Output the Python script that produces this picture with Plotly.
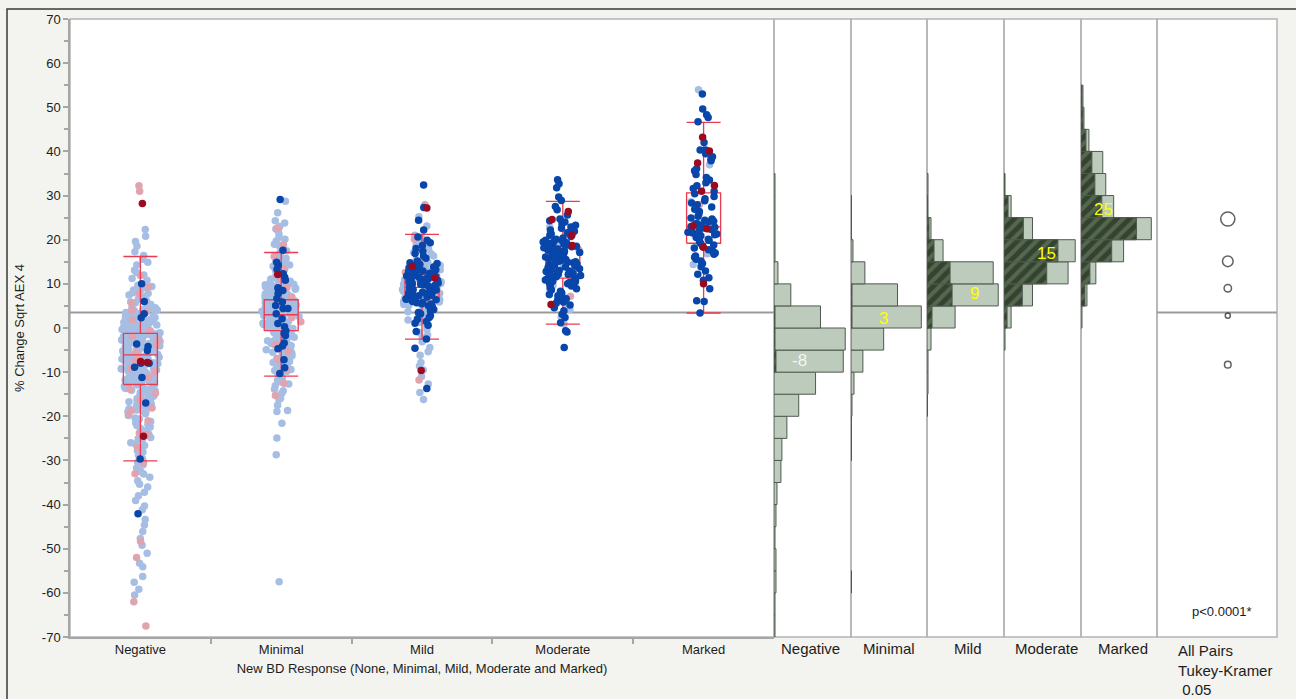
import math
import plotly.graph_objects as go

W, H = 1296, 699

CATEGORIES = ["Negative", "Minimal", "Mild", "Moderate", "Marked"]

# ---- % change values per response group (lb = light blue, lp = light pink,
# ---- db = dark blue, dr = dark red markers)
NEG_LB = [-60.5, -59.2, -57.6, -56.3, -54.1, -53.3, -51.0, -49.2, -47.7, -46.1,
          -44.6, -43.4, -41.2, -40.3, -39.1, -38.0, -37.2, -36.0, -35.4,
          -34.6, -33.8, -33.1, -32.5, -31.7, -31.0, -30.4,
          -29.9, -29.5, -28.8, -28.1, -27.8, -27.4, -26.6, -26.3, -26.0, -25.4, -25.1,
          -24.8, -24.0, -23.9, -23.7, -23.3, -22.7, -22.4, -22.1, -21.8, -21.5, -21.2,
          -20.9, -20.6, -20.4,
          -19.8, -19.4, -19.1, -19.0, -18.9, -18.6, -18.3, -18.0, -17.9, -17.6, -17.4,
          -17.2, -16.9, -16.7, -16.5, -16.2, -16.0, -15.8, -15.6, -15.5, -15.4, -15.2,
          -14.9, -14.7, -14.6, -14.4, -14.2, -14.1, -14.0, -13.8, -13.7, -13.5, -13.3,
          -13.2, -13.1, -12.9, -12.8, -12.7, -12.6, -12.4, -12.3, -12.2, -12.0, -11.9,
          -11.8, -11.7, -11.6, -11.5, -11.4, -11.3, -11.1, -11.0, -10.9, -10.8, -10.7,
          -10.6, -10.5, -10.4, -10.3, -10.2, -10.1,
          -9.9, -9.8, -9.7, -9.6, -9.5, -9.4, -9.3, -9.2, -9.1, -9.0, -8.9, -8.8,
          -8.75, -8.7, -8.6, -8.5, -8.4, -8.3, -8.2, -8.1, -8.0, -7.9, -7.8, -7.7,
          -7.6, -7.5, -7.4, -7.35, -7.3, -7.2, -7.1, -7.0, -6.95, -6.9, -6.8, -6.7,
          -6.6, -6.5, -6.4, -6.3, -6.2, -6.1, -6.0, -5.95, -5.9, -5.8, -5.7, -5.6,
          -5.5, -5.4, -5.3, -5.2, -5.1,
          -4.9, -4.8, -4.75, -4.6, -4.5, -4.4, -4.3, -4.2, -4.1, -4.05, -3.9, -3.8,
          -3.7, -3.6, -3.5, -3.45, -3.4, -3.3, -3.2, -3.1, -3.0, -2.95, -2.9, -2.8,
          -2.7, -2.6, -2.5, -2.4, -2.35, -2.3, -2.2, -2.1, -2.0, -1.9, -1.8, -1.7,
          -1.6, -1.5, -1.45, -1.4, -1.3, -1.2, -1.1, -1.0, -0.95, -0.9, -0.8, -0.7,
          -0.6, -0.5, -0.4, -0.35, -0.3, -0.2, -0.1,
          0.1, 0.2, 0.3, 0.4, 0.6, 0.7, 0.8, 0.9, 1.0, 1.1, 1.3, 1.4, 1.5, 1.6,
          1.7, 1.9, 2.0, 2.1, 2.2, 2.4, 2.5, 2.6, 2.8, 2.9, 3.0, 3.2, 3.3, 3.4,
          3.5, 3.6, 3.9, 4.1, 4.2, 4.4, 4.6, 4.7, 4.9,
          5.0, 5.3, 5.7, 5.9, 6.2, 6.6, 6.9, 7.1, 7.5, 7.8, 8.0, 8.3, 8.6, 9.1,
          9.4, 9.7,
          10.8, 11.2, 12.0, 12.6, 13.1, 14.3, 14.9, 15.6, 16.4, 17.3, 18.6, 19.6,
          20.8, 22.3]
NEG_LP = [-67.5, -62.0, -52.0, -48.3, -33.0, -30.5, -27.0, -24.2, -23.8, -21.0,
          -19.6, -18.7, -18.1, -16.3, -14.8, -13.9, -11.2, -9.8, -9.1, -7.4,
          -6.3, -5.5, -3.9, -2.8, -1.9, -0.6, 1.8, 3.7, 4.0, 5.6, 7.7, 9.3, 11.9,
          31.0, 32.2]
NEG_DB = [10.0, 6.0, 3.2, 2.3, -3.6, -4.2, -5.1, -8.0, -8.9, -8.0, -11.2,
          -17.0, -29.7, -42.1]
NEG_DR = [28.2, -7.8, -7.6, -24.5]

MIN_LB = [-57.5, -28.7, -24.9, -21.6, -18.9, -18.7, -17.5, -16.2, -15.9,
          -14.8, -14.2, -13.9, -13.1, -12.7, -12.2, -11.9, -11.4, -10.9, -10.6,
          -10.2,
          -9.8, -9.6, -9.4, -9.0, -8.8, -8.5, -8.3, -8.1, -7.8, -7.6, -7.4, -7.0,
          -6.9, -6.7, -6.3, -6.1, -6.0, -5.8, -5.7, -5.5, -5.3, -5.1,
          -4.9, -4.7, -4.6, -4.5, -4.3, -4.1, -4.0, -3.9, -3.8, -3.7, -3.5, -3.3,
          -3.1, -3.0, -2.9, -2.7, -2.6, -2.5, -2.3, -2.1, -2.0, -1.9, -1.7, -1.6,
          -1.5, -1.3, -1.1, -1.0, -0.9, -0.8, -0.7, -0.5, -0.4, -0.3, -0.1,
          0.05, 0.1, 0.2, 0.3, 0.4, 0.45, 0.5, 0.6, 0.7, 0.8, 0.9, 1.0, 1.05,
          1.1, 1.2, 1.3, 1.4, 1.5, 1.55, 1.6, 1.7, 1.8, 1.9, 2.0, 2.1, 2.15,
          2.2, 2.3, 2.4, 2.5, 2.6, 2.7, 2.75, 2.8, 2.9, 3.0, 3.1, 3.2, 3.25,
          3.3, 3.4, 3.5, 3.6, 3.7, 3.8, 3.85, 3.9, 4.0, 4.1, 4.2, 4.3, 4.35,
          4.4, 4.5, 4.6, 4.7, 4.8, 4.85, 4.9,
          5.0, 5.15, 5.2, 5.3, 5.4, 5.5, 5.6, 5.75, 5.8, 5.9, 6.1, 6.2, 6.35,
          6.4, 6.5, 6.6, 6.7, 6.85, 6.9, 7.0, 7.2, 7.3, 7.45, 7.5, 7.6, 7.7,
          7.8, 8.0, 8.05, 8.2, 8.3, 8.5, 8.6, 8.65, 8.7, 8.8, 9.0, 9.2, 9.3,
          9.4, 9.5, 9.6, 9.75, 9.8, 9.9,
          10.1, 10.4, 10.6, 10.8, 11.1, 11.3, 11.5, 11.8, 11.9, 12.2, 12.4,
          12.6, 13.0, 13.2, 13.4, 13.8, 14.0, 14.3, 14.7,
          15.0, 15.4, 15.8, 16.1, 16.8, 17.1, 17.5, 18.2, 18.6, 19.0, 19.7,
          20.1, 20.5, 21.3, 21.9, 22.4, 23.0, 23.8, 24.3, 26.1, 28.7]
MIN_LP = [22.6, 18.9, 16.2, 13.4, 11.0, 9.2, 7.1, 5.0, 2.4, 1.4, -2.6, -3.8,
          -5.3, -7.0, -9.6, -12.5, -15.3]
MIN_DB = [29.1, 17.6, 14.9, 14.2, 13.3, 12.3, 11.5, 10.8, 9.1, 8.9, 8.5, 7.8,
          6.7, 5.9, 5.1, 4.4, 4.4, 3.2, 2.1, 1.0, 0.3, -0.6, -1.2, -1.7, -3.4,
          -4.1, -4.7, -7.2, -9.0, -10.3]
MIN_DR = [12.1]

MILD_LB = [-16.2, -14.6, -12.7, -11.0, -9.5, -8.6, -7.8, -6.2, -5.4, -4.4, -3.1,
           -2.2, -1.6, -1.0, -0.3,
           0.4, 0.9, 1.3, 1.6, 1.8, 2.2, 2.6, 2.9, 3.0, 3.2, 3.4, 3.7, 4.0, 4.3,
           4.6, 4.8,
           5.1, 5.3, 5.5, 5.7, 5.8, 5.9, 6.0, 6.1, 6.3, 6.5, 6.7, 6.9, 7.0, 7.1,
           7.3, 7.4, 7.5, 7.7, 7.9, 8.1, 8.3, 8.4, 8.5, 8.7, 8.8, 8.9, 9.0, 9.1,
           9.3, 9.5, 9.7, 9.9,
           10.1, 10.3, 10.5, 10.6, 10.8, 11.0, 11.2, 11.3, 11.5, 11.7, 11.9,
           12.0, 12.2, 12.4, 12.5, 12.7, 13.0, 13.2, 13.4, 13.5, 13.8, 14.0,
           14.2, 14.3, 14.6, 14.9,
           15.5, 16.3, 16.8, 17.1, 17.9, 18.3, 18.8, 19.6, 20.4, 21.0, 23.1, 25.2]
MILD_LP = [27.9, 20.1, 12.6, 8.0, -11.8]
MILD_DB = [-13.7, -4.6, -2.5, -0.8,
           0.6, 1.1, 1.5, 2.0, 2.4, 2.8, 3.2, 3.5, 3.9, 4.2, 4.5, 4.9,
           5.0, 5.2, 5.4, 5.5, 5.7, 5.8, 6.0, 6.2, 6.3, 6.4, 6.5, 6.6, 6.8,
           7.0, 7.1, 7.3, 7.4, 7.6, 7.8, 7.9, 8.0, 8.1, 8.2, 8.4, 8.6, 8.7,
           8.9, 9.0, 9.2, 9.4, 9.5, 9.7, 9.8, 9.9,
           10.0, 10.2, 10.3, 10.5, 10.7, 10.8, 10.9, 11.0, 11.1, 11.2, 11.4,
           11.5, 11.7, 11.8, 11.9, 12.0, 12.2, 12.4, 12.6, 12.7, 12.8, 12.9,
           13.1, 13.2, 13.3, 13.5, 13.6, 13.8, 14.0, 14.1, 14.2, 14.4, 14.6,
           14.8,
           15.2, 15.8, 16.3, 16.9, 17.4, 18.0, 18.7, 19.3, 19.9,
           20.6, 22.2, 24.4, 27.3, 32.4]
MILD_DR = [27.2, 14.0, 11.3, -9.6]

MOD_LB = [0.9, 2.5, 4.2, 5.6, 7.0, 8.8, 9.6, 10.4, 12.9, 13.5, 14.1, 16.4,
          17.6, 19.2, 21.4, 22.9]
MOD_LP = [7.2]
MOD_DB = [-4.4, -0.9, -0.6, 1.2, 2.4, 3.1, 3.9, 4.6,
          5.2, 5.6, 5.9, 6.3, 6.6, 7.0, 7.3, 7.6, 7.8, 8.0, 8.3, 8.6, 8.9,
          9.2, 9.5, 9.8,
          10.0, 10.2, 10.3, 10.5, 10.6, 10.8, 10.9, 11.0, 11.1, 11.3, 11.4,
          11.5, 11.6, 11.8, 11.9, 12.1, 12.2, 12.4, 12.6, 12.7, 12.8, 12.9,
          13.0, 13.2, 13.4, 13.5, 13.7, 13.8, 13.9, 14.0, 14.2, 14.3, 14.5,
          14.6, 14.8, 14.9,
          15.0, 15.1, 15.3, 15.4, 15.5, 15.7, 15.8, 15.9, 16.0, 16.1, 16.2,
          16.4, 16.5, 16.6, 16.7, 16.8, 16.9, 17.1, 17.2, 17.3, 17.4, 17.5,
          17.6, 17.8, 17.9, 18.1, 18.2, 18.3, 18.4, 18.5, 18.6, 18.8, 18.9,
          19.0, 19.2, 19.3, 19.5, 19.6, 19.7, 19.9,
          20.1, 20.4, 20.7, 21.0, 21.3, 21.5, 21.6, 21.9, 22.2, 22.6, 22.9,
          23.3, 23.6, 24.0, 24.3, 24.7,
          25.6, 26.8, 27.5, 28.9, 29.7, 31.8, 32.7, 33.6]
MOD_DR = [5.3, 18.7, 21.0, 24.6, 26.4]

MARK_LB = [14.4, 16.8, 21.2, 23.9, 28.6, 37.0, 54.0]
MARK_LP = [28.0]
MARK_DB = [3.4, 6.0, 6.2, 8.9, 10.8, 11.4, 12.2, 12.9, 13.9, 14.6,
           15.2, 15.6, 16.0, 16.3, 16.7, 17.0, 17.4, 17.7, 18.1, 18.5, 18.8,
           19.2, 19.5, 19.9,
           20.1, 20.3, 20.5, 20.7, 20.9, 21.1, 21.3, 21.5, 21.7, 21.9, 22.0,
           22.1, 22.3, 22.6, 22.8, 23.0, 23.3, 23.5, 23.7, 24.0, 24.2, 24.4,
           24.7, 24.9,
           25.3, 25.8, 26.4, 26.9, 27.4, 27.9, 28.3, 28.8, 29.3, 29.8,
           30.4, 31.0, 31.6, 32.2, 32.9, 33.5, 34.1, 34.8,
           35.6, 36.1, 37.9, 38.2, 38.8, 39.5, 40.3, 40.3, 42.0,
           46.7, 47.7, 48.3, 49.6, 53.0]
MARK_DR = [10.0, 18.3, 22.5, 23.1, 31.0, 32.3, 37.4, 40.1, 43.2]

# ---- quantile box summaries
BOX_LOW = [-30.1, -10.9, -2.5, 0.9, 3.4]
BOX_Q1 = [-12.8, -0.6, 6.1, 11.3, 19.2]
BOX_MED = [-6.1, 3.0, 9.2, 14.9, 22.9]
BOX_Q3 = [-1.2, 6.4, 12.1, 18.5, 30.6]
BOX_HIGH = [16.2, 17.1, 21.2, 28.7, 46.6]

# ---- group means, comparison-circle radii, grand mean
MEANS = [-8.3, 2.8, 9.0, 15.1, 24.7]
CIRCLE_RADIUS = [0.75, 0.57, 0.84, 1.2, 1.6]
GRAND_MEAN = 3.5

# ---- histogram counts per 5-unit bin (lower edges -70 ... 50)
BIN_LOWER = list(range(-70, 55, 5))
NEG_HIST = [1, 1, 2, 2, 1, 2, 3, 7, 8, 13, 25, 42, 70, 72, 47, 17, 4, 1, 1, 1, 1, 0, 0, 0, 0]
NEG_SEL = [0, 0, 0, 0, 0, 0, 0, 0, 0, 0, 0, 0, 2, 1, 1, 0, 0, 0, 0, 0, 0, 0, 0, 0, 0]
MIN_HIST = [0, 0, 0.5, 0, 0, 0, 0, 0, 0.5, 0.5, 1, 3, 12, 33, 71, 47, 14, 2, 0.5, 0.5, 0, 0, 0, 0, 0]
MIN_SEL = [0, 0, 0, 0, 0, 0, 0, 0, 0, 0, 0, 0, 0, 0, 1, 1, 0, 0, 0, 0, 0, 0, 0, 0, 0]
MILD_HIST = [0, 0, 0, 0, 0, 0, 0, 0, 0, 0, 0.5, 1, 1, 4, 28, 71, 66, 16, 4, 1, 1, 0, 0, 0, 0]
MILD_SEL = [0, 0, 0, 0, 0, 0, 0, 0, 0, 0, 0, 0, 0, 0, 5, 25, 23, 7, 2, 0.5, 0, 0, 0, 0, 0]
MOD_HIST = [0, 0, 0, 0, 0, 0, 0, 0, 0, 0, 0, 0, 0, 1, 7, 28, 63, 70, 28, 7, 1, 0, 0, 0, 0]
MOD_SEL = [0, 0, 0, 0, 0, 0, 0, 0, 0, 0, 0, 0, 0, 0, 3, 18, 42, 53, 19, 4, 0.5, 0, 0, 0, 0]
MARK_HIST = [0, 0, 0, 0, 0, 0, 0, 0, 0, 0, 0, 0, 0, 0, 1, 6, 15, 43, 71, 33, 25, 22, 8, 3, 2]
MARK_SEL = [0, 0, 0, 0, 0, 0, 0, 0, 0, 0, 0, 0, 0, 0, 0, 4, 9, 31, 56, 21, 14, 11, 5, 2, 1]

# ------------------------------------------------------------------ layout
def fx(px):
    return px / W


def fy(py):
    return (H - py) / H


PLOT_TOP, PLOT_BOT = 19, 637
MAIN_X = (70, 774)
HIST_X = [(774, 851), (851, 927), (927, 1004), (1004, 1081), (1081, 1157)]
CMP_X = (1157, 1277)
PX_PER_UNIT = (PLOT_BOT - PLOT_TOP) / 140.0

FONT = "Liberation Sans, Arial, Helvetica, sans-serif"
C_LB, C_LP, C_DB, C_DR = "#a7bee4", "#e0a3b0", "#0846aa", "#9a0b22"
BOX_RED = "#ec3a50"
GRID_GREY = "#a6a6a6"

groups = [
    (NEG_LB, NEG_LP, NEG_DB, NEG_DR, NEG_HIST, NEG_SEL),
    (MIN_LB, MIN_LP, MIN_DB, MIN_DR, MIN_HIST, MIN_SEL),
    (MILD_LB, MILD_LP, MILD_DB, MILD_DR, MILD_HIST, MILD_SEL),
    (MOD_LB, MOD_LP, MOD_DB, MOD_DR, MOD_HIST, MOD_SEL),
    (MARK_LB, MARK_LP, MARK_DB, MARK_DR, MARK_HIST, MARK_SEL),
]
DARK_SPREAD = [0.45, 0.4, 0.85, 1.0, 0.8]


def scatter_hash(i, v, phase):
    s = math.sin((i + 1) * 12.9898 + v * 78.233 + phase * 37.719) * 43758.5453
    return s - math.floor(s)


def jitter(vals, hist, spread, phase):
    """Density-scaled horizontal offsets (wider where the group is dense)."""
    hmax = max(hist)
    out = []
    for i, v in enumerate(vals):
        b = min(max(int((v + 70) // 5), 0), len(hist) - 1)
        dens = hist[b] / hmax
        w = (0.035 + 0.105 * dens ** 0.5) * spread
        u = scatter_hash(i, v, phase)
        out.append((2 * u - 1) * w)
    return out


def collect(idx, spread_fn, phase):
    xs, ys = [], []
    for k, g in enumerate(groups):
        vals = g[idx]
        offs = jitter(vals, g[4], spread_fn(k), phase + 1.37 * k)
        xs += [k + o for o in offs]
        ys += list(vals)
    return xs, ys


fig = go.Figure()

# grand mean reference line (main panel and comparison panel)
fig.add_trace(go.Scatter(x=[-0.5, 4.5], y=[GRAND_MEAN, GRAND_MEAN], mode="lines",
                         line=dict(color="#9b9b9b", width=2), xaxis="x", yaxis="y",
                         hoverinfo="skip"))
fig.add_trace(go.Scatter(x=[0, 1], y=[GRAND_MEAN, GRAND_MEAN], mode="lines",
                         line=dict(color="#9b9b9b", width=2), xaxis="x7", yaxis="y",
                         hoverinfo="skip"))

MS = 7.5
x, y = collect(0, lambda k: 1.0, 0.0)
fig.add_trace(go.Scatter(x=x, y=y, mode="markers", xaxis="x", yaxis="y",
                         marker=dict(size=MS, color=C_LB, line=dict(width=0))))
x, y = collect(1, lambda k: 1.0, 0.41)
fig.add_trace(go.Scatter(x=x, y=y, mode="markers", xaxis="x", yaxis="y",
                         marker=dict(size=MS, color=C_LP, line=dict(width=0))))

# quantile boxes with whiskers and caps
HW = 17.0 / 140.8
bx, by = [], []
for k in range(5):
    lo, q1, md, q3, hi = BOX_LOW[k], BOX_Q1[k], BOX_MED[k], BOX_Q3[k], BOX_HIGH[k]
    a, b = k - HW, k + HW
    bx += [a, b, b, a, a, None, a, b, None, k, k, None, k, k, None, a, b, None, a, b, None]
    by += [q1, q1, q3, q3, q1, None, md, md, None, q3, hi, None, q1, lo, None, hi, hi, None, lo, lo, None]
fig.add_trace(go.Scatter(x=bx, y=by, mode="lines", xaxis="x", yaxis="y",
                         line=dict(color=BOX_RED, width=1.3), hoverinfo="skip"))

x, y = collect(2, lambda k: DARK_SPREAD[k], 0.77)
fig.add_trace(go.Scatter(x=x, y=y, mode="markers", xaxis="x", yaxis="y",
                         marker=dict(size=MS, color=C_DB, line=dict(width=0))))
x, y = collect(3, lambda k: DARK_SPREAD[k], 0.29)
fig.add_trace(go.Scatter(x=x, y=y, mode="markers", xaxis="x", yaxis="y",
                         marker=dict(size=MS, color=C_DR, line=dict(width=0))))

# histograms per group
centers = [e + 2.5 for e in BIN_LOWER]
for k, g in enumerate(groups):
    xa = "x%d" % (k + 2)
    tot, sel = g[4], g[5]
    ty = [c for c, t in zip(centers, tot) if t > 0]
    tx = [t for t in tot if t > 0]
    sy = [c for c, s in zip(centers, sel) if s > 0]
    sx = [s for s in sel if s > 0]
    fig.add_trace(go.Bar(x=tx, y=ty, orientation="h", width=5, xaxis=xa, yaxis="y",
                         marker=dict(color="#bdcbbc", line=dict(color="#4f5a4f", width=1))))
    fig.add_trace(go.Bar(x=sx, y=sy, orientation="h", width=5, xaxis=xa, yaxis="y",
                         marker=dict(color="#34422f", line=dict(color="#4f5a4f", width=1),
                                     pattern=dict(shape="/", fgcolor="#748d6f",
                                                  fillmode="overlay", size=9,
                                                  solidity=0.45))))

# comparison circles
fig.add_trace(go.Scatter(x=[0.59] * 5, y=MEANS, mode="markers", xaxis="x7", yaxis="y",
                         marker=dict(symbol="circle-open",
                                     size=[2 * r * PX_PER_UNIT for r in CIRCLE_RADIUS],
                                     color="#1e1e1e", line=dict(width=1.5, color="#1e1e1e"))))

Y_TICKS = list(range(-70, 71, 10))
layout = dict(
    width=W, height=H, autosize=False, showlegend=False,
    margin=dict(l=0, r=0, t=0, b=0, pad=0),
    paper_bgcolor="#f3f3ef", plot_bgcolor="rgba(0,0,0,0)",
    barmode="overlay", font=dict(family=FONT, color="#1c1c1c"),
    xaxis=dict(domain=[fx(MAIN_X[0]), fx(MAIN_X[1])], range=[-0.5, 4.5], anchor="y",
               tickmode="array", tickvals=list(range(5)), ticktext=CATEGORIES,
               ticks="", showline=True, linecolor=GRID_GREY, linewidth=1.5,
               showgrid=False, zeroline=False, automargin=False,
               tickfont=dict(size=13, color="#1c1c1c"),
               minor=dict(tickmode="array", tickvals=[0.5, 1.5, 2.5, 3.5], ticks="outside",
                          ticklen=5, tickcolor=GRID_GREY, tickwidth=1.5, showgrid=False),
               title=dict(text="New BD Response (None, Minimal, Mild, Moderate and Marked)",
                          font=dict(size=13, color="#1c1c1c"), standoff=8)),
    yaxis=dict(domain=[fy(PLOT_BOT), fy(PLOT_TOP)], range=[-70, 70], anchor="x",
               tickmode="array", tickvals=Y_TICKS, ticktext=[str(t) for t in Y_TICKS],
               ticks="outside", ticklen=5, tickcolor=GRID_GREY, tickwidth=1.5,
               showline=True, linecolor=GRID_GREY, linewidth=1.5,
               showgrid=False, zeroline=False, automargin=False,
               tickfont=dict(size=13, color="#1c1c1c"),
               minor=dict(dtick=5, ticks="outside", ticklen=4, tickcolor=GRID_GREY,
                          tickwidth=1.5, showgrid=False),
               title=dict(text="% Change Sqrt AEX 4", font=dict(size=13, color="#1c1c1c"),
                          standoff=14)),
)
for k, (a, b) in enumerate(HIST_X):
    hmax = max(groups[k][4])
    layout["xaxis%d" % (k + 2)] = dict(domain=[fx(a), fx(b)], range=[0, hmax / 0.925],
                                       anchor="y", visible=False, fixedrange=True)
layout["xaxis7"] = dict(domain=[fx(CMP_X[0]), fx(CMP_X[1])], range=[0, 1], anchor="y",
                        visible=False)

shapes = [
    # outer report frame
    dict(type="rect", xref="paper", yref="paper", x0=fx(7), x1=1.05, y0=-0.05, y1=fy(9),
         line=dict(color="#3a3a3a", width=1.5), fillcolor="rgba(0,0,0,0)", layer="below"),
    # white plotting background
    dict(type="rect", xref="paper", yref="paper", x0=fx(MAIN_X[0]), x1=fx(CMP_X[1]),
         y0=fy(PLOT_BOT), y1=fy(PLOT_TOP), line=dict(width=0), fillcolor="white",
         layer="below"),
]
for a, b in [MAIN_X] + HIST_X + [CMP_X]:
    shapes.append(dict(type="rect", xref="paper", yref="paper", x0=fx(a), x1=fx(b),
                       y0=fy(PLOT_BOT), y1=fy(PLOT_TOP),
                       line=dict(color="#b4b4b4", width=1.5),
                       fillcolor="rgba(0,0,0,0)", layer="below"))
layout["shapes"] = shapes

annotations = []
# group names under the histogram panels
for name, cx in zip(CATEGORIES, [811, 889, 968, 1046, 1123]):
    annotations.append(dict(text=name, x=fx(cx), y=fy(648), xref="paper", yref="paper",
                            showarrow=False, xanchor="center", yanchor="middle",
                            font=dict(size=15, color="#1c1c1c")))
annotations.append(dict(text="All Pairs<br>Tukey-Kramer<br> 0.05", x=fx(1176), y=fy(640),
                        xref="paper", yref="paper", showarrow=False, align="left",
                        xanchor="left", yanchor="top",
                        font=dict(size=15, color="#1c1c1c")))
annotations.append(dict(text="p<0.0001*", x=fx(1222), y=fy(611), xref="paper", yref="paper",
                        showarrow=False, xanchor="center", yanchor="middle",
                        font=dict(size=13, color="#1c1c1c")))
# group means written on the histograms
label_px = [(799, 361), (883, 318), (975, 294), (1046, 253), (1103, 209)]
label_col = ["#f4f4f4", "#ffff00", "#ffff00", "#ffff00", "#ffff00"]
for m, (lx, ly), col in zip(MEANS, label_px, label_col):
    annotations.append(dict(text="%d" % round(m), x=fx(lx), y=fy(ly), xref="paper",
                            yref="paper", showarrow=False, xanchor="center",
                            yanchor="middle", font=dict(size=17, color=col)))
layout["annotations"] = annotations

fig.update_layout(**layout)
fig.write_html("out.html")
